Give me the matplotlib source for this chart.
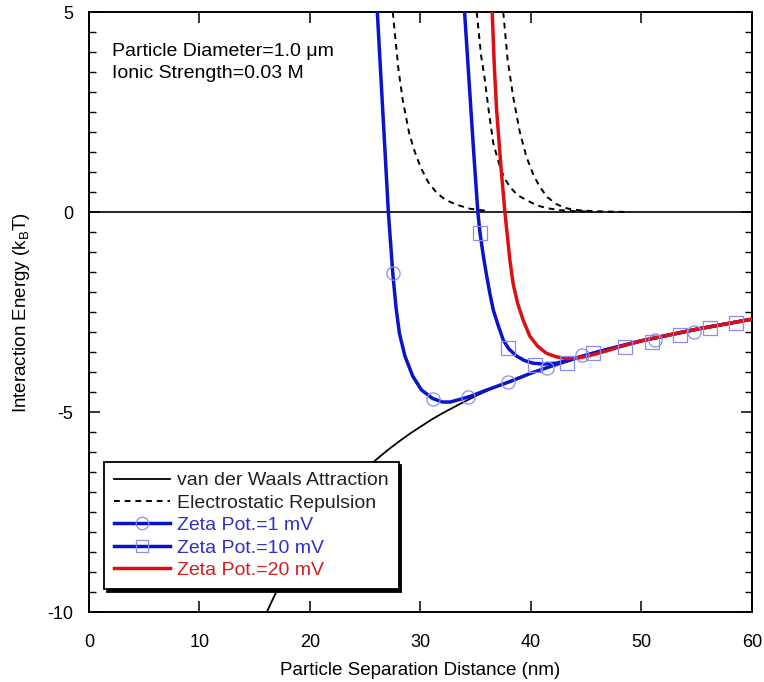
import matplotlib
matplotlib.use("Agg")
import matplotlib.pyplot as plt
from matplotlib.lines import Line2D
from matplotlib.ticker import MultipleLocator

plt.rcParams['font.family'] = ['Liberation Sans', 'DejaVu Sans']
plt.rcParams['axes.unicode_minus'] = False

# van der Waals attraction
vdw_x = [16.1, 16.5, 17, 17.5, 18, 18.5, 19, 20, 21, 22, 23, 24, 25, 26, 27, 28, 29, 30, 31,
         32, 33.5, 35, 36.5, 38, 41, 44, 47, 50, 53, 56, 60]
vdw_y = [-10.0, -9.76, -9.47, -9.20, -8.94, -8.70, -8.47, -8.05, -7.67, -7.32, -7.00, -6.71,
         -6.44, -6.19, -5.96, -5.75, -5.55, -5.37, -5.19, -5.03, -4.81, -4.60, -4.41, -4.24,
         -3.93, -3.66, -3.43, -3.22, -3.04, -2.88, -2.68]

# electrostatic repulsion (three dashed curves)
edl1_x = [27.5, 28.0, 28.4, 29.0, 29.5, 30.0, 30.7, 31.5, 32.3, 33.3, 34.5, 36.0]
edl1_y = [5.0, 3.6, 2.8, 1.95, 1.5, 1.13, 0.75, 0.47, 0.30, 0.18, 0.08, 0.03]
edl2_x = [35.1, 35.5, 35.8, 36.2, 36.6, 37.2, 37.6, 38.1, 38.8, 39.6, 40.5, 41.4, 42.5, 44.0, 45.5]
edl2_y = [5.0, 3.9, 3.38, 2.5, 1.72, 1.13, 0.85, 0.63, 0.42, 0.30, 0.17, 0.10, 0.05, 0.02, 0.01]
edl3_x = [37.5, 37.9, 38.4, 39.0, 39.6, 40.2, 40.8, 41.5, 42.3, 43.0, 43.8, 45.0, 47.0, 49.0]
edl3_y = [5.0, 3.8, 2.88, 2.0, 1.38, 0.95, 0.63, 0.37, 0.20, 0.11, 0.06, 0.03, 0.01, 0.0]

# total interaction energy, zeta potential 1 mV
z1_x = [26.1, 26.4, 26.7, 27.1, 27.5, 27.8, 28.1, 28.6, 29.3, 30.1, 31.1, 32.0, 32.7, 33.5,
        34.5, 36.0, 38.1, 40.0, 42.0, 44.0, 46.0, 50.0, 55.0, 60.0]
z1_y = [5.0, 3.5, 2.0, 0.0, -1.53, -2.4, -3.03, -3.6, -4.1, -4.45, -4.66, -4.75, -4.75, -4.69,
        -4.61, -4.45, -4.24, -4.03, -3.84, -3.66, -3.50, -3.22, -2.93, -2.68]
z1_mx = [27.5, 31.1, 34.3, 37.9, 41.5, 44.6, 51.2, 54.8]
z1_my = [-1.53, -4.68, -4.62, -4.25, -3.90, -3.58, -3.20, -3.00]

# zeta potential 10 mV
z10_x = [34.0, 34.4, 34.8, 35.2, 35.4, 35.7, 36.0, 36.3, 36.6, 37.0, 37.5, 38.0, 38.7, 39.4,
         40.2, 41.1, 42.3, 43.5, 45.0, 47.0, 50.0, 55.0, 60.0]
z10_y = [5.0, 3.3, 1.6, 0.0, -0.53, -1.1, -1.6, -2.05, -2.45, -2.8, -3.2, -3.42, -3.6, -3.71,
         -3.78, -3.80, -3.78, -3.70, -3.58, -3.43, -3.22, -2.93, -2.68]
z10_mx = [35.4, 37.9, 40.4, 43.3, 45.6, 48.5, 51.0, 53.5, 56.2, 58.6]
z10_my = [-0.53, -3.40, -3.83, -3.78, -3.53, -3.37, -3.24, -3.08, -2.90, -2.77]

# zeta potential 20 mV
z20_x = [36.5, 36.7, 36.9, 37.3, 37.65, 38.1, 38.4, 38.8, 39.3, 39.9, 40.6, 41.4, 42.3, 43.2,
         44.2, 45.2, 46.5, 48.3, 50.0, 55.0, 60.0]
z20_y = [5.0, 3.6, 2.55, 1.1, 0.0, -1.2, -1.8, -2.28, -2.7, -3.1, -3.35, -3.53, -3.62, -3.66,
         -3.65, -3.60, -3.50, -3.35, -3.22, -2.93, -2.68]

blue = '#0a14c8'
red = '#dc1010'
mk = '#8c8cf0'
fs = 13.5

fig = plt.figure(figsize=(7.64, 6.82), dpi=100)
ax = fig.add_axes([0.1165, 0.1026, 0.8675, 0.8798])

ax.axhline(0, color='black', linewidth=1.2, zorder=1)
ax.plot(vdw_x, vdw_y, color='black', linewidth=1.3, zorder=2)
for ex, ey in [(edl1_x, edl1_y), (edl2_x, edl2_y), (edl3_x, edl3_y)]:
    ax.plot(ex, ey, color='black', linewidth=1.4, linestyle=(0, (3, 2.5)), zorder=2)

ax.plot(z1_x, z1_y, color=blue, linewidth=2.5, zorder=3)
ax.plot(z10_x, z10_y, color=blue, linewidth=2.5, zorder=3)
ax.plot(z20_x, z20_y, color=red, linewidth=2.5, zorder=4)
ax.plot(z1_mx, z1_my, linestyle='none', marker='o', markersize=9.5, markerfacecolor='none',
        markeredgecolor=mk, markeredgewidth=0.9, zorder=5)
ax.plot(z10_mx, z10_my, linestyle='none', marker='s', markersize=9.5, markerfacecolor='none',
        markeredgecolor=mk, markeredgewidth=0.9, zorder=5)

ax.set_xlim(0, 60)
ax.set_ylim(-10, 5)
ax.xaxis.set_major_locator(MultipleLocator(10))
ax.yaxis.set_major_locator(MultipleLocator(5))
ax.yaxis.set_minor_locator(MultipleLocator(0.5))
ax.tick_params(which='both', direction='in', top=True, right=True, labelsize=13)
ax.tick_params(which='major', length=8, width=1.1)
ax.tick_params(which='minor', length=5, width=1.0)
ax.tick_params(axis='x', pad=16)
ax.tick_params(axis='y', pad=11.5)
for s in ax.spines.values():
    s.set_linewidth(1.4)

ax.set_xlabel('Particle Separation Distance (nm)', fontsize=fs, labelpad=8)
ax.set_ylabel('Interaction Energy (k$_\\mathregular{B}$T)', fontsize=fs, labelpad=11)

ax.text(0.035, 0.935, 'Particle Diameter=1.0 \u03bcm', transform=ax.transAxes,
        fontsize=14, va='center')
ax.text(0.035, 0.897, 'Ionic Strength=0.03 M', transform=ax.transAxes,
        fontsize=14, va='center')

handles = [
    Line2D([], [], color='black', linewidth=1.3),
    Line2D([], [], color='black', linewidth=1.4, linestyle=(0, (3, 2.5))),
    Line2D([], [], color=blue, linewidth=2.5, marker='o', markersize=9,
           markerfacecolor='none', markeredgecolor=mk, markeredgewidth=0.9),
    Line2D([], [], color=blue, linewidth=2.5, marker='s', markersize=9,
           markerfacecolor='none', markeredgecolor=mk, markeredgewidth=0.9),
    Line2D([], [], color=red, linewidth=2.5),
]
labels = ['van der Waals Attraction', 'Electrostatic Repulsion',
          'Zeta Pot.=1 mV', 'Zeta Pot.=10 mV', 'Zeta Pot.=20 mV']
leg = ax.legend(handles, labels, loc='upper left', bbox_to_anchor=(0.023, 0.25),
                borderaxespad=0, fontsize=14, fancybox=False, framealpha=1,
                edgecolor='black', handlelength=2.9, handletextpad=0.35,
                labelspacing=0.25, borderpad=0.5,
                shadow={'color': 'black', 'alpha': 1})
leg.get_frame().set_linewidth(1.3)
for t, c in zip(leg.get_texts(), ['#222222', '#222222', '#3030c8', '#3030c8', '#d02020']):
    t.set_color(c)

fig.savefig('out.png', dpi=100)
